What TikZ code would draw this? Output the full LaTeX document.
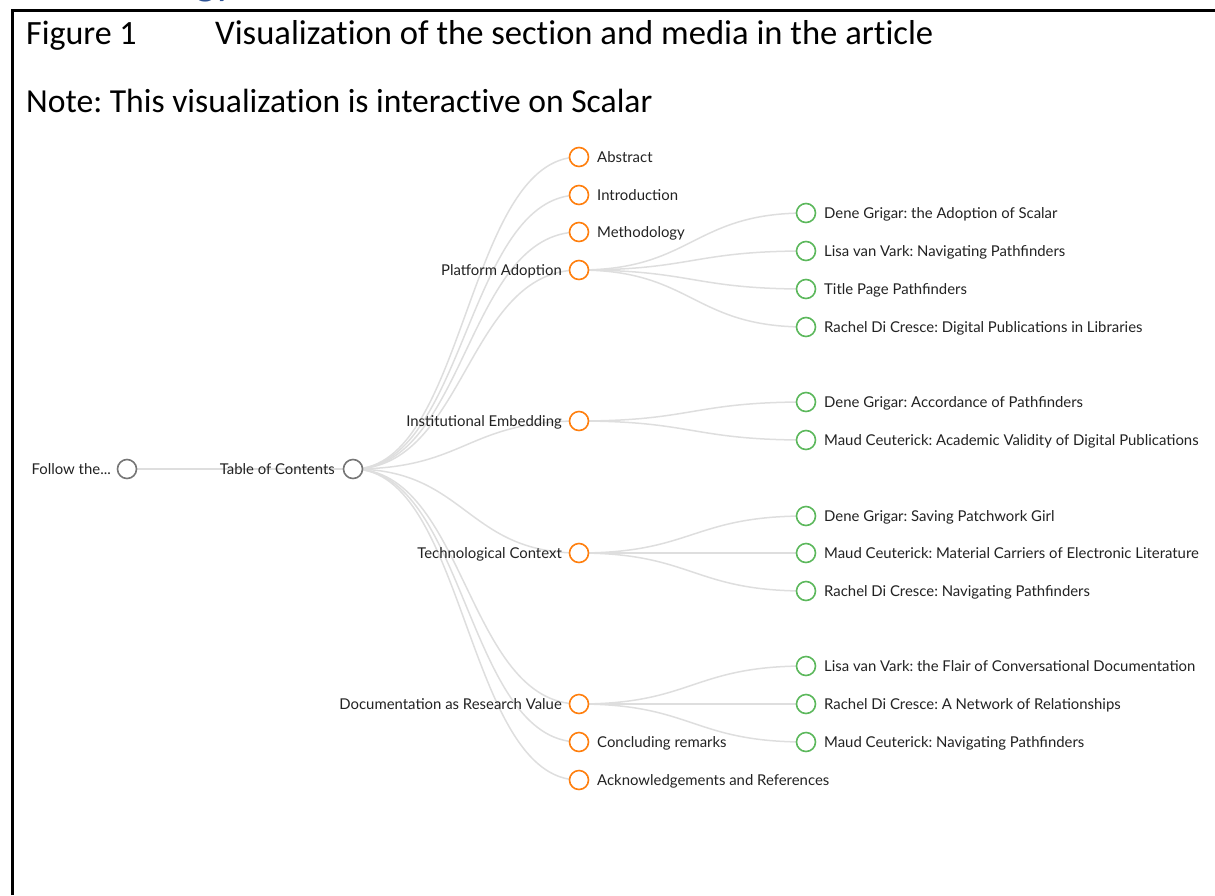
\documentclass[tikz,border=0pt]{standalone}
\usepackage{fontspec}
\setmainfont{Carlito}[Ligatures=NoCommon]
\newfontfamily\latofont{Lato}
\usetikzlibrary{calc}
\definecolor{orng}{RGB}{255,127,14}
\definecolor{grn}{RGB}{92,184,92}
\definecolor{rootgray}{RGB}{118,118,118}
\definecolor{linkgray}{RGB}{222,222,222}
\definecolor{txt}{RGB}{34,34,34}
\definecolor{headblue}{RGB}{47,84,150}
\pgfdeclarelayer{bg}
\pgfsetlayers{bg,main}
\frenchspacing
\begin{document}
\begin{tikzpicture}[x=1pt,y=-1pt,
  dot/.style={circle, line width=1.6pt, fill=white, minimum size=19pt, inner sep=0pt},
  rootdot/.style={dot, draw=rootgray},
  secdot/.style={dot, draw=orng},
  meddot/.style={dot, draw=grn},
  lbl/.style={font=\latofont\fontsize{14.9}{17}\selectfont, text=txt, inner sep=0pt},
  lblR/.style={lbl, anchor=base west},
  lblL/.style={lbl, anchor=base east},
  link/.style={draw=linkgray, line width=1.5pt},
  head/.style={font=\fontsize{34}{40}\selectfont, anchor=base west, inner sep=0pt, text=black},
  frame/.style={draw=black, line width=3pt}
]
\useasboundingbox (0,0) rectangle (1215,895);

% cut-off heading fragment and frame
\node[font=\fontsize{44}{50}\selectfont, text=headblue, anchor=base east, inner sep=0pt] (headfrag) at (236,-6) {gy};
\draw[frame] (12,895) -- (12,10) -- (1215,10);

\node[head] (fig) at (26,44) {Figure 1};
\node[head, font=\fontsize{34.6}{40}\selectfont] (title) at (215,44) {Visualization of the section and media in the article};
\node[head, font=\fontsize{33.6}{40}\selectfont] (note) at (26,112) {Note: This visualization is interactive on Scalar};

% root nodes
\node[rootdot] (follow) at (127,469) {};
\node[rootdot] (toc) at (353,469) {};
\node[lblL] (follow-l) at (111,474) {Follow the...};
\node[lblL] (toc-l) at (335,474) {Table of Contents};

% section nodes
\node[secdot] (abs) at (579,157) {};
\node[secdot] (intro) at (579,195) {};
\node[secdot] (meth) at (579,232) {};
\node[secdot] (plat) at (579,270) {};
\node[secdot] (inst) at (579,421) {};
\node[secdot] (tech) at (579,553) {};
\node[secdot] (doc) at (579,704) {};
\node[secdot] (conc) at (579,742) {};
\node[secdot] (ack) at (579,780) {};

\node[lblR] (abs-l) at (597,162) {Abstract};
\node[lblR] (intro-l) at (597,200) {Introduction};
\node[lblR] (meth-l) at (597,237) {Methodology};
\node[lblL] (plat-l) at (562,275) {Platform Adoption};
\node[lblL] (inst-l) at (562,426) {Institutional Embedding};
\node[lblL] (tech-l) at (562,558) {Technological Context};
\node[lblL] (doc-l) at (562,709) {Documentation as Research Value};
\node[lblR] (conc-l) at (597,747) {Concluding remarks};
\node[lblR] (ack-l) at (597,785) {Acknowledgements and References};

% media nodes
\node[meddot] (m1) at (806,213) {};
\node[meddot] (m2) at (806,251) {};
\node[meddot] (m3) at (806,289) {};
\node[meddot] (m4) at (806,327) {};
\node[meddot] (m5) at (806,402) {};
\node[meddot] (m6) at (806,440) {};
\node[meddot] (m7) at (806,516) {};
\node[meddot] (m8) at (806,553) {};
\node[meddot] (m9) at (806,591) {};
\node[meddot] (m10) at (806,666) {};
\node[meddot] (m11) at (806,704) {};
\node[meddot] (m12) at (806,742) {};

\node[lblR] (m1-l) at (824,218) {Dene Grigar: the Adoption of Scalar};
\node[lblR] (m2-l) at (824,256) {Lisa van Vark: Navigating Pathfinders};
\node[lblR] (m3-l) at (824,294) {Title Page Pathfinders};
\node[lblR] (m4-l) at (824,332) {Rachel Di Cresce: Digital Publications in Libraries};
\node[lblR] (m5-l) at (824,407) {Dene Grigar: Accordance of Pathfinders};
\node[lblR] (m6-l) at (824,445) {Maud Ceuterick: Academic Validity of Digital Publications};
\node[lblR] (m7-l) at (824,521) {Dene Grigar: Saving Patchwork Girl};
\node[lblR] (m8-l) at (824,558) {Maud Ceuterick: Material Carriers of Electronic Literature};
\node[lblR] (m9-l) at (824,596) {Rachel Di Cresce: Navigating Pathfinders};
\node[lblR] (m10-l) at (824,671) {Lisa van Vark: the Flair of Conversational Documentation};
\node[lblR] (m11-l) at (824,709) {Rachel Di Cresce: A Network of Relationships};
\node[lblR] (m12-l) at (824,747) {Maud Ceuterick: Navigating Pathfinders};

% links
\begin{pgfonlayer}{bg}
\draw[link] (follow.center) -- (toc.center);
\foreach \t in {abs,intro,meth,plat,inst,tech,doc,conc,ack}
  \draw[link] (toc.center) .. controls +(113,0) and +(-113,0) .. (\t.center);
\foreach \s/\t in {plat/m1,plat/m2,plat/m3,plat/m4,inst/m5,inst/m6,tech/m7,tech/m8,tech/m9,doc/m10,doc/m11,doc/m12}
  \draw[link] (\s.center) .. controls +(113.5,0) and +(-113.5,0) .. (\t.center);
\end{pgfonlayer}
\end{tikzpicture}
\end{document}
